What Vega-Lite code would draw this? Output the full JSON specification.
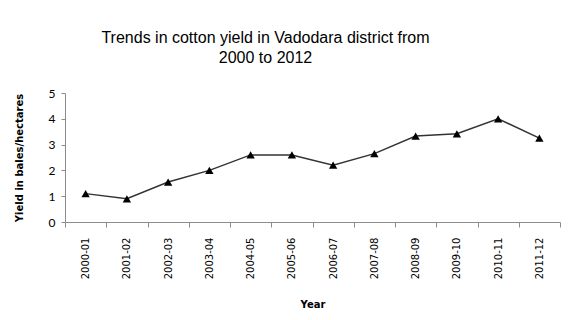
{
  "$schema": "https://vega.github.io/schema/vega-lite/v6.json",
  "width": 495,
  "height": 129,
  "autosize": "none",
  "padding": {"left": 65, "top": 93, "right": 10, "bottom": 98},
  "background": "white",
  "title": {
    "text": ["Trends in cotton yield in Vadodara district from", "2000 to 2012"],
    "font": "Liberation Sans",
    "fontSize": 16,
    "fontWeight": "normal",
    "color": "black",
    "anchor": "middle",
    "dx": -47,
    "offset": 21,
    "lineHeight": 20
  },
  "data": {
    "values": [
      {"year": "2000-01", "yield": 1.1},
      {"year": "2001-02", "yield": 0.9},
      {"year": "2002-03", "yield": 1.55},
      {"year": "2003-04", "yield": 2.0},
      {"year": "2004-05", "yield": 2.6},
      {"year": "2005-06", "yield": 2.6},
      {"year": "2006-07", "yield": 2.2},
      {"year": "2007-08", "yield": 2.65},
      {"year": "2008-09", "yield": 3.33},
      {"year": "2009-10", "yield": 3.42},
      {"year": "2010-11", "yield": 4.0},
      {"year": "2011-12", "yield": 3.25}
    ]
  },
  "encoding": {
    "x": {
      "field": "year",
      "type": "nominal",
      "sort": null,
      "bandPosition": 0.5,
      "scale": {"type": "band", "paddingInner": 0, "paddingOuter": 0},
      "axis": {
        "title": "Year",
        "titleFont": "DejaVu Sans",
        "titleFontSize": 10,
        "titleFontWeight": "bold",
        "titleColor": "black",
        "titlePadding": 21,
        "labelAngle": -90,
        "labelFont": "DejaVu Sans",
        "labelFontSize": 10,
        "labelColor": "black",
        "labelPadding": 10,
        "tickBand": "extent",
        "tickSize": 5,
        "tickColor": "#8c8c8c",
        "domainColor": "#8c8c8c",
        "grid": false
      }
    },
    "y": {
      "field": "yield",
      "type": "quantitative",
      "scale": {"domain": [0, 5], "nice": false},
      "axis": {
        "title": "Yield in bales/hectares",
        "titleFont": "DejaVu Sans",
        "titleFontSize": 10,
        "titleFontWeight": "bold",
        "titleColor": "black",
        "titlePadding": 24,
        "values": [0, 1, 2, 3, 4, 5],
        "labelFont": "Lato",
        "labelFontSize": 12,
        "labelColor": "black",
        "labelPadding": 6,
        "tickSize": 4,
        "tickColor": "#8c8c8c",
        "domainColor": "#8c8c8c",
        "grid": false
      }
    }
  },
  "layer": [
    {"mark": {"type": "line", "color": "#333333", "strokeWidth": 1.5}},
    {"mark": {"type": "point", "shape": "triangle-up", "filled": true, "color": "black", "opacity": 1, "size": 70}}
  ],
  "config": {"view": {"stroke": null}}
}
